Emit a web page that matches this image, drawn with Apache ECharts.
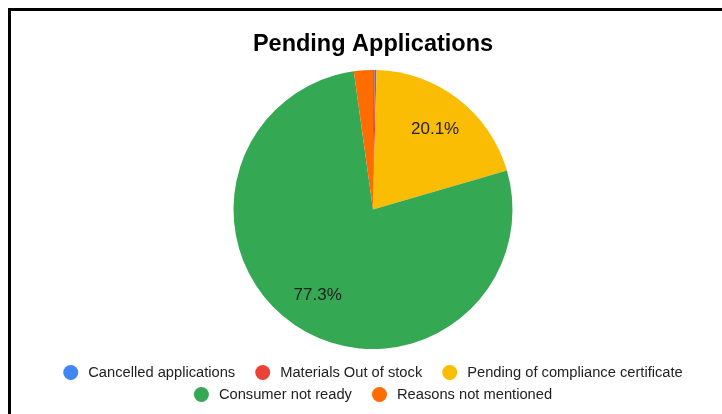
<!DOCTYPE html>
<html>
<head>
<meta charset="utf-8">
<title>Pending Applications</title>
<script src="https://cdn.jsdelivr.net/npm/echarts@6/dist/echarts.min.js"></script>
<style>
  html, body { margin: 0; padding: 0; background: #fff; }
  body { width: 722px; height: 414px; position: relative; overflow: hidden; }
  #frame {
    position: absolute; left: 8px; top: 8px; right: 0; bottom: 0;
    border-top: 3px solid #000; border-left: 3px solid #000;
  }
  #chart { position: absolute; left: 24px; top: 0; width: 698px; height: 414px; }
</style>
</head>
<body>
<div id="frame"></div>
<div id="chart"></div>
<script>
// Share of pending applications by reason (percent)
const categories = [
  'Cancelled applications',
  'Materials Out of stock',
  'Pending of compliance certificate',
  'Consumer not ready',
  'Reasons not mentioned'
];
const shares = [0.2, 0.2, 20.1, 77.3, 2.2];
const sliceColors = ['#4285F4', '#EA4335', '#FBBC04', '#34A853', '#FF6D01'];
const legendRow1 = categories.slice(0, 3);
const legendRow2 = categories.slice(3);

const FONT = '"Liberation Sans", Arial, sans-serif';
const pieData = categories.map((name, i) => ({
  name: name,
  value: shares[i],
  itemStyle: { color: sliceColors[i] }
}));

const legendBase = {
  left: 'center',
  orient: 'horizontal',
  icon: 'circle',
  itemWidth: 15,
  itemHeight: 15,
  itemGap: 20,
  selectedMode: false,
  textStyle: {
    fontFamily: FONT,
    fontSize: 14.7,
    color: '#222',
    padding: [0, 0, 0, 5]
  }
};

const chart = echarts.init(document.getElementById('chart'), null, { renderer: 'canvas' });
chart.setOption({
  animation: false,
  backgroundColor: 'transparent',
  title: {
    text: 'Pending Applications',
    left: 'center',
    top: 28,
    textStyle: { fontFamily: FONT, fontSize: 23.5, fontWeight: 'bold', color: '#000' }
  },
  legend: [
    Object.assign({}, legendBase, { top: 360, data: legendRow1 }),
    Object.assign({}, legendBase, { top: 382, data: legendRow2 })
  ],
  series: [
    {
      // filled slices, clockwise from 12 o'clock
      type: 'pie',
      center: ['50%', 209.5],
      radius: [0, 139.5],
      startAngle: 90,
      clockwise: true,
      silent: true,
      label: { show: false },
      labelLine: { show: false },
      data: pieData
    },
    {
      // transparent ring that carries the percentage labels further out
      type: 'pie',
      center: ['50%', 209.5],
      radius: [58, 139.5],
      startAngle: 90,
      clockwise: true,
      silent: true,
      itemStyle: { color: 'rgba(0,0,0,0)' },
      label: {
        show: true,
        position: 'inside',
        fontFamily: FONT,
        fontSize: 17,
        color: '#222',
        formatter: p => (p.percent >= 5 ? p.percent.toFixed(1) + '%' : '')
      },
      labelLine: { show: false },
      data: categories.map((name, i) => ({ name: name, value: shares[i] }))
    }
  ]
});
</script>
</body>
</html>
